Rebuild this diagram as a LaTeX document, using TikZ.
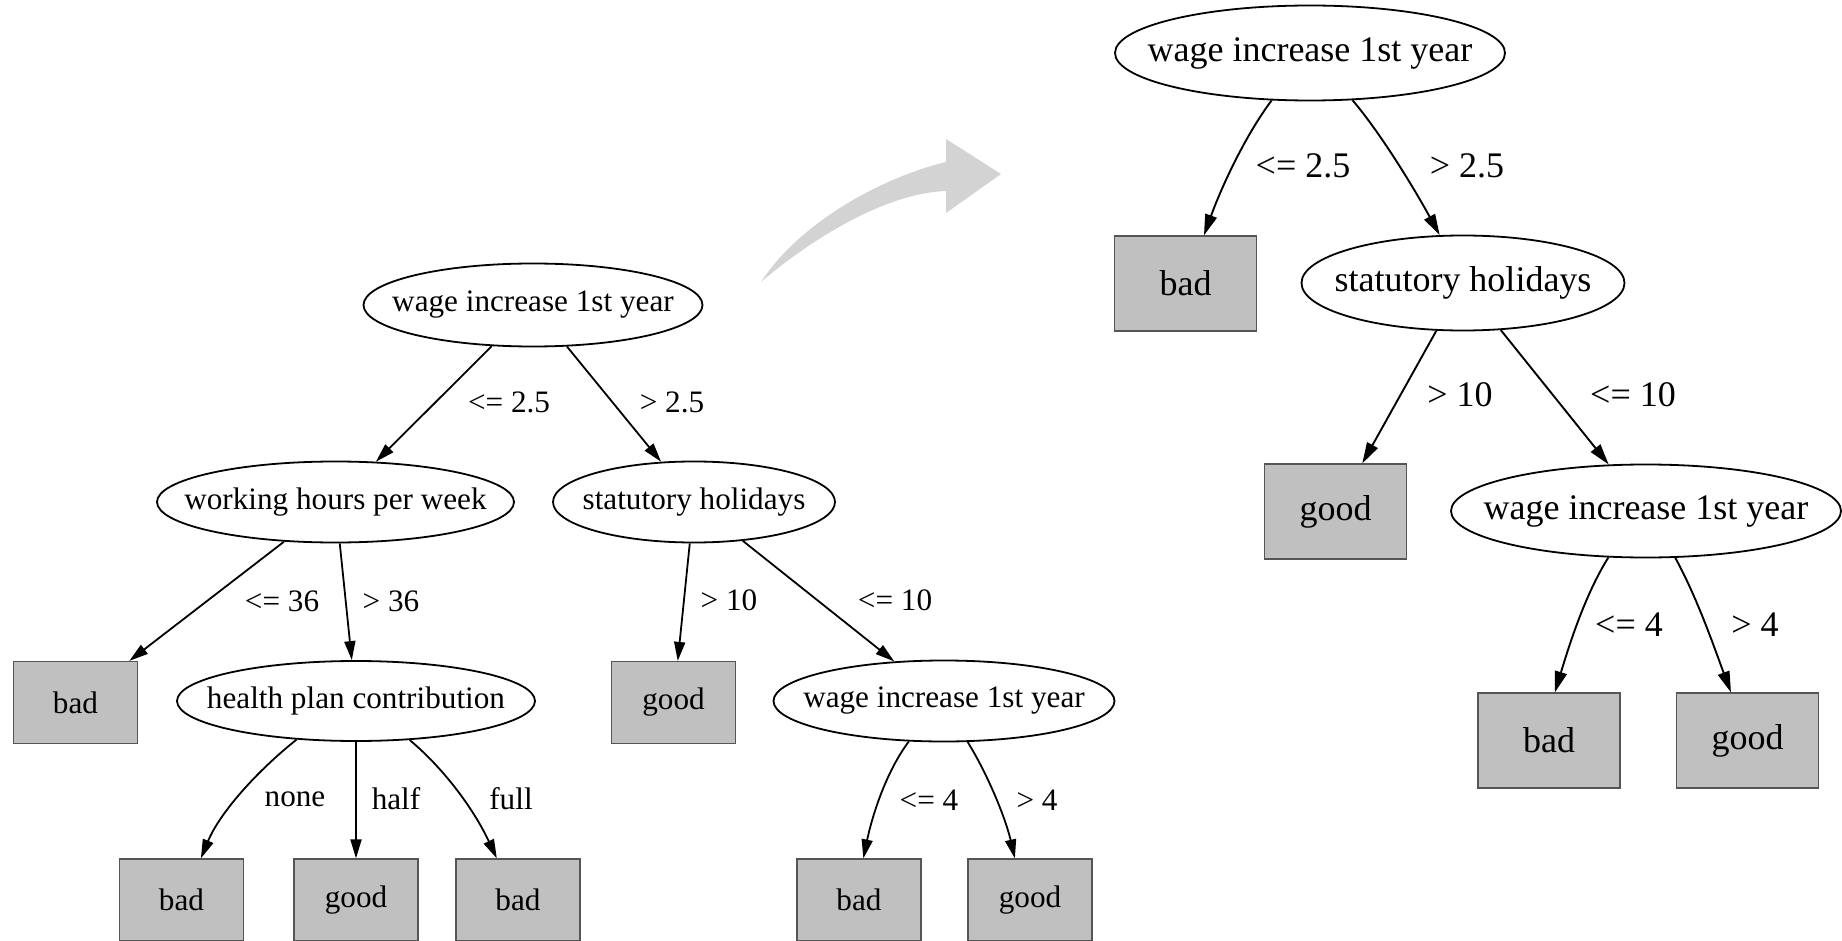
\documentclass[tikz,border=0pt]{standalone}
\usepackage{fontspec}
\setmainfont{Liberation Serif}
\usetikzlibrary{shapes.geometric,arrows.meta}
\definecolor{leafgray}{RGB}{192,192,192}
\definecolor{leafedge}{RGB}{85,85,85}
\definecolor{flowgray}{RGB}{211,211,211}
% zero-width label so the ellipse size is set by its minimum width/height only
\newcommand{\zwlabel}[1]{\makebox[0pt][c]{#1}}

\begin{document}
\begin{tikzpicture}[x=1pt,y=-1pt,
  small/.style={font=\fontsize{31.2}{36}\selectfont},
  large/.style={font=\fontsize{36}{42}\selectfont},
  test/.style={ellipse,draw=black,line width=1.8pt,inner sep=0pt,fill=white},
  leaf/.style={rectangle,draw=leafedge,line width=1.2pt,fill=leafgray,inner sep=0pt},
  smallleaf/.style={leaf,small,minimum width=124pt,minimum height=82pt},
  largeleaf/.style={leaf,large,minimum width=142pt,minimum height=95pt},
  edge/.style={line width=1.8pt,-{Triangle[length=19pt,width=11pt]}},
  bigedge/.style={line width=1.9pt,-{Triangle[length=21pt,width=12pt]}},
  lbl/.style={inner sep=0pt}]

\useasboundingbox (0,0) rectangle (1842,941);

% ---------- full tree ----------
\node[test,small,minimum width=339pt,minimum height=83pt] (lroot) at (533,305) {\zwlabel{wage increase 1st year}};
\node[test,small,minimum width=357pt,minimum height=81pt] (lwh) at (335.5,502) {\zwlabel{working hours per week}};
\node[test,small,minimum width=282pt,minimum height=81pt] (lsh) at (694,502) {\zwlabel{statutory holidays}};
\node[smallleaf] (lbad1) at (75.5,702.5) {bad};
\node[test,small,minimum width=358pt,minimum height=80pt] (lhpc) at (356,701) {\zwlabel{health plan contribution}};
\node[smallleaf] (lgood1) at (673.5,702.5) {good};
\node[test,small,minimum width=341pt,minimum height=81pt] (lwage) at (944,701) {\zwlabel{wage increase 1st year}};
\node[smallleaf] (lbad2) at (181.5,900) {bad};
\node[smallleaf] (lgood2) at (356,900) {good};
\node[smallleaf] (lbad3) at (518,900) {bad};
\node[smallleaf] (lbad4) at (859,900) {bad};
\node[smallleaf] (lgood3) at (1030,900) {good};

\draw[edge] (lroot) -- (lwh);
\draw[edge] (lroot) -- (lsh);
\draw[edge] (lwh) -- (lbad1);
\draw[edge] (lwh) -- (lhpc);
\draw[edge] (lsh) -- (lgood1);
\draw[edge] (lsh) -- (lwage);
\draw[edge] (lhpc.213) .. controls +(-39,31) and +(19,-46) .. (lbad2.65);
\draw[edge] (lhpc) -- (lgood2);
\draw[edge] (lhpc.324) .. controls +(38,32) and +(-21,-45) .. (lbad3.117);
\draw[edge] (lwage.229) .. controls +(-24,32) and +(8,-39) .. (lbad4.84);
\draw[edge] (lwage.300) .. controls +(21,34) and +(-9,-39) .. (lgood3.110);

\node[lbl,small] (l1) at (509,402) {<= 2.5};
\node[lbl,small] (l2) at (672,402) {> 2.5};
\node[lbl,small] (l3) at (282,601) {<= 36};
\node[lbl,small] (l4) at (391,601) {> 36};
\node[lbl,small] (l5) at (729,600) {> 10};
\node[lbl,small] (l6) at (895,600) {<= 10};
\node[lbl,small] (l7) at (295,799) {none};
\node[lbl,small] (l8) at (396,799) {half};
\node[lbl,small] (l9) at (511,799) {full};
\node[lbl,small] (l10) at (929,800) {<= 4};
\node[lbl,small] (l11) at (1037,800) {> 4};

% ---------- pruned tree ----------
\node[test,large,minimum width=390pt,minimum height=95pt] (rroot) at (1310,53) {\zwlabel{wage increase 1st year}};
\node[largeleaf] (rbad1) at (1185.5,283.5) {bad};
\node[test,large,minimum width=323pt,minimum height=95pt] (rsh) at (1463,283) {\zwlabel{statutory holidays}};
\node[largeleaf] (rgood1) at (1335.5,511.5) {good};
\node[test,large,minimum width=390pt,minimum height=93pt] (rwage) at (1646,511) {\zwlabel{wage increase 1st year}};
\node[largeleaf] (rbad2) at (1549,740.5) {bad};
\node[largeleaf] (rgood2) at (1747.5,740.5) {good};

\draw[bigedge] (rroot.231) .. controls +(-27,36) and +(17,-47) .. (rbad1.69);
\draw[bigedge] (rroot.312) .. controls +(29,34) and +(-24,-44) .. (rsh.116);
\draw[bigedge] (rsh) -- (rgood1);
\draw[bigedge] (rsh) -- (rwage);
\draw[bigedge] (rwage.231) .. controls +(-24,38) and +(13,-43) .. (rbad2.83);
\draw[bigedge] (rwage.302) .. controls +(22,40) and +(-16,-43) .. (rgood2.109);

\node[lbl,large] (r1) at (1303,166) {<= 2.5};
\node[lbl,large] (r2) at (1467,166) {> 2.5};
\node[lbl,large] (r3) at (1460,395) {> 10};
\node[lbl,large] (r4) at (1633,395) {<= 10};
\node[lbl,large] (r5) at (1629,625) {<= 4};
\node[lbl,large] (r6) at (1755,625) {> 4};

% ---------- pruning arrow ----------
\fill[flowgray] (761,282) .. controls (800,222) and (883,177) .. (946,162)
  -- (946,139) -- (1001,174) -- (946,213) -- (946,191)
  .. controls (885,193) and (810,240) .. cycle;
\end{tikzpicture}
\end{document}
